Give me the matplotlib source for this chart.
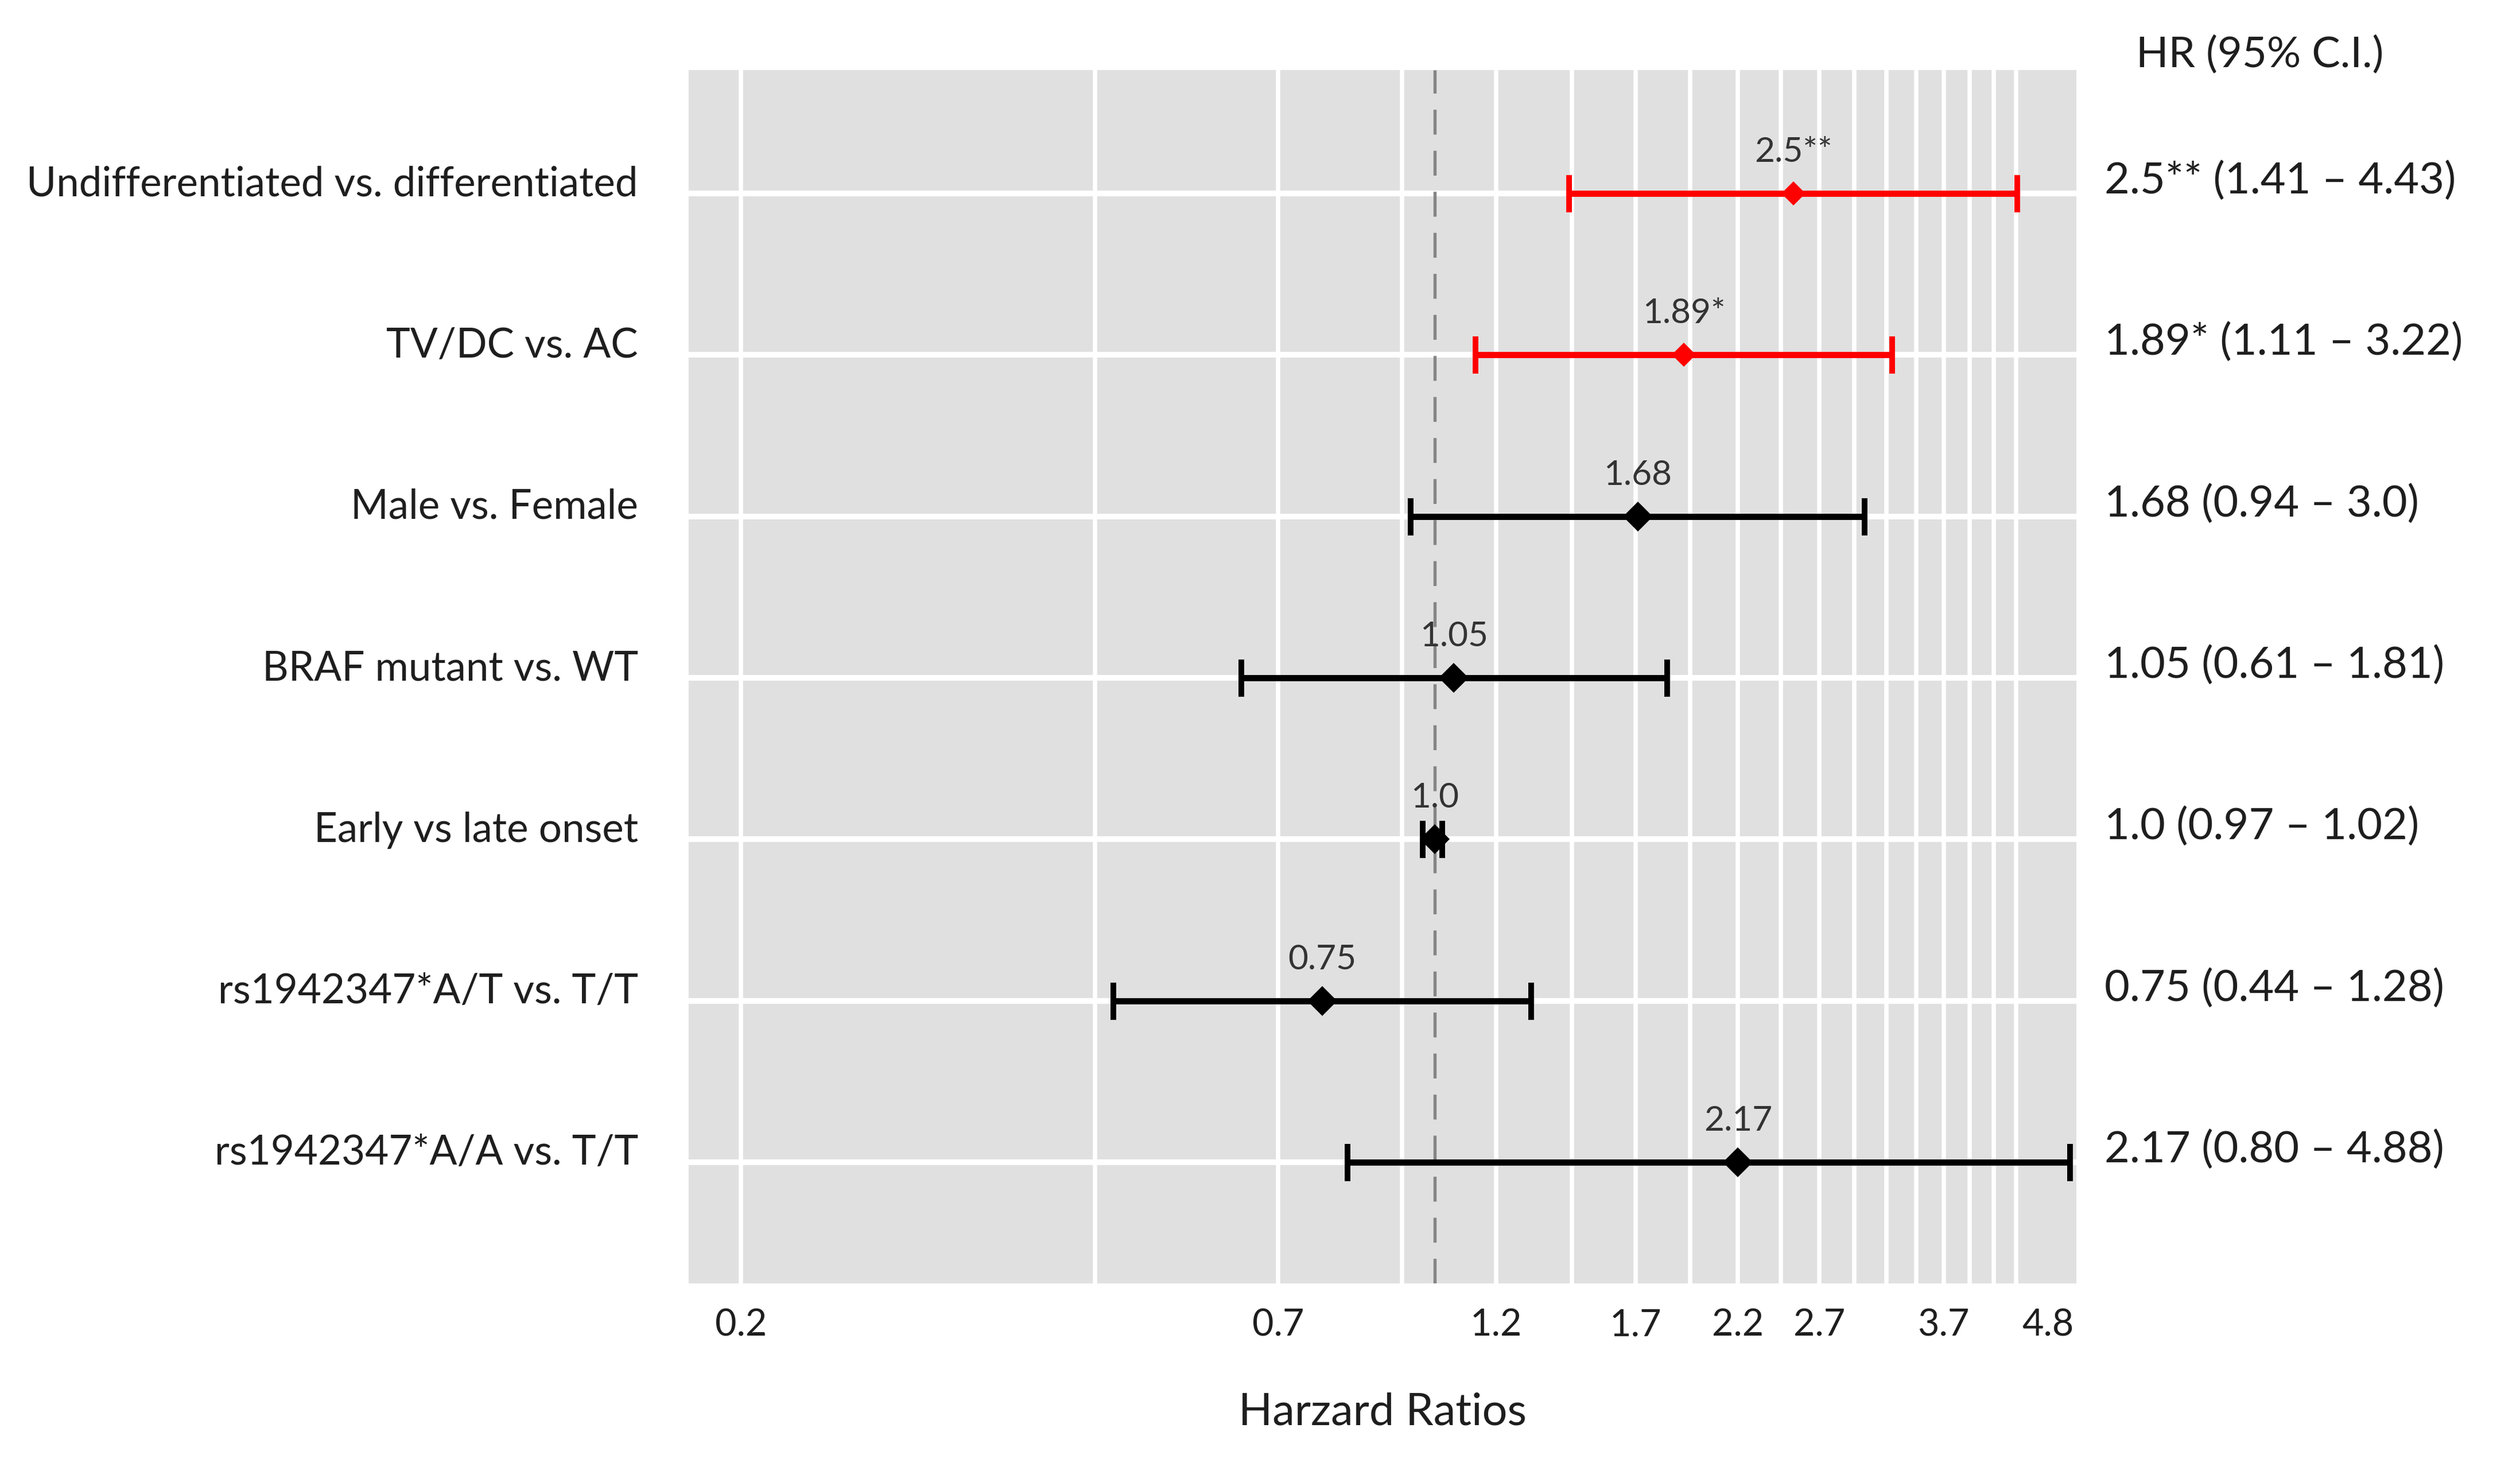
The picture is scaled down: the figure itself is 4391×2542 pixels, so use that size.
import numpy as np
from matplotlib import pyplot as plt
from matplotlib.ticker import NullLocator

# Forest plot of hazard ratios
labels = ["Undifferentiated vs. differentiated", "TV/DC vs. AC", "Male vs. Female",
          "BRAF mutant vs. WT", "Early vs late onset", "rs1942347*A/T vs. T/T",
          "rs1942347*A/A vs. T/T"]
hr = [2.5, 1.89, 1.68, 1.05, 1.0, 0.75, 2.17]
lo = [1.41, 1.11, 0.94, 0.61, 0.97, 0.44, 0.80]
hi = [4.43, 3.22, 3.0, 1.81, 1.02, 1.28, 5.07]  # last bar is drawn out to the panel edge
hr_text = ["2.5**", "1.89*", "1.68", "1.05", "1.0", "0.75", "2.17"]
ci_text = ["2.5** (1.41 \u2013 4.43)", "1.89* (1.11 \u2013 3.22)", "1.68 (0.94 \u2013 3.0)",
           "1.05 (0.61 \u2013 1.81)", "1.0 (0.97 \u2013 1.02)", "0.75 (0.44 \u2013 1.28)",
           "2.17 (0.80 \u2013 4.88)"]
signif = [True, True, False, False, False, False, False]

tick_vals = [0.17, 0.67, 1.17, 1.67, 2.17, 2.67, 3.67, 4.79]
tick_labels = ["0.2", "0.7", "1.2", "1.7", "2.2", "2.7", "3.7", "4.8"]
grid_vals = np.arange(0.17, 4.43, 0.25)

plt.rcParams['font.family'] = ['Lato', 'DejaVu Sans']
txt_col = '#1e1e1e'

W, H = 4391, 2542
fig = plt.figure(figsize=(W / 300, H / 300), dpi=300)
ax = fig.add_axes([1200 / W, 1 - 2236 / H, 2418 / W, 2114 / H])
ax.set_xscale('log')
ax.set_xlim(0.1487, 5.152)
ax.set_ylim(7.75, 0.236)
ax.set_facecolor('#E0E0E0')
for s in ax.spines.values():
    s.set_visible(False)

rows = np.arange(1, len(labels) + 1)

# grid
for g in grid_vals:
    ax.axvline(g, color='white', lw=1.8, zorder=1)
for y in rows:
    ax.axhline(y, color='white', lw=2.4, zorder=1)
ax.axvline(1.0, color='#858585', lw=1.3, dashes=(8, 5.2), zorder=2)

for i, y in enumerate(rows):
    c = '#FF0000' if signif[i] else 'black'
    ms = 7.2 if signif[i] else 8.8
    ax.errorbar([hr[i]], [y], xerr=[[hr[i] - lo[i]], [hi[i] - hr[i]]], fmt='none',
                ecolor=c, elinewidth=2.6, capsize=7.8, capthick=2.4, zorder=3)
    ax.plot([hr[i]], [y], marker='D', ms=ms, color=c, mew=0, zorder=4)
    ax.text(hr[i], y - 0.195, hr_text[i], ha='center', va='baseline',
            fontsize=14.5, color='#333333', zorder=5)
    # left label and right summary text
    ax.text(-0.0364, y + 0.015, labels[i], transform=ax.get_yaxis_transform(),
            ha='right', va='baseline', fontsize=17.0, color=txt_col)
    ax.text(1.0203, y, ci_text[i], transform=ax.get_yaxis_transform(),
            ha='left', va='baseline', fontsize=18.2, color=txt_col)

ax.text(1.043, 1.0024, "HR (95% C.I.)", transform=ax.transAxes,
        ha='left', va='baseline', fontsize=17.8, color=txt_col)

ax.set_xticks(tick_vals)
ax.set_xticklabels(tick_labels)
ax.xaxis.set_minor_locator(NullLocator())
ax.set_yticks([])
ax.tick_params(axis='x', length=0, pad=10.5, labelsize=15.5, labelcolor=txt_col)

ax.text(0.5, -0.1168, "Harzard Ratios", transform=ax.transAxes,
        ha='center', va='baseline', fontsize=18.6, color=txt_col)

fig.savefig('out.png', dpi=300)
